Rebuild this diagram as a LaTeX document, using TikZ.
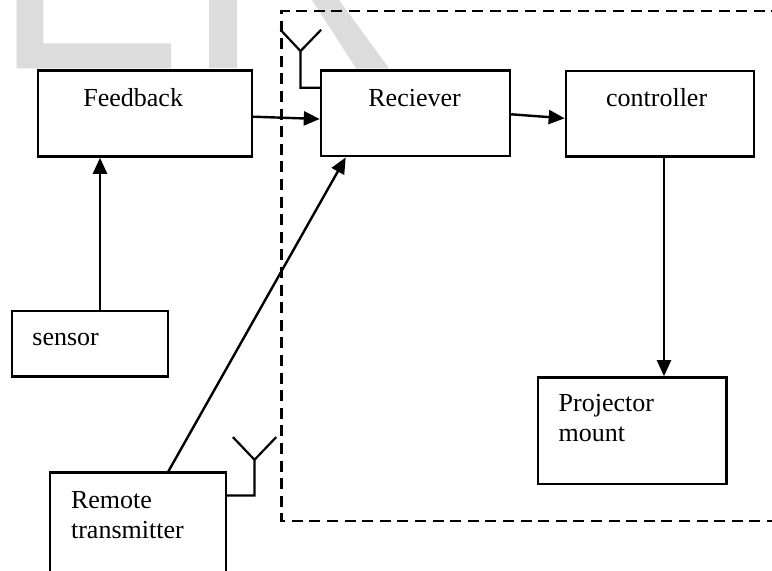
\documentclass[tikz,border=0pt]{standalone}
\usepackage{fontspec}
\setmainfont{Liberation Serif}
\usetikzlibrary{arrows.meta}
\definecolor{wm}{HTML}{DCDCDC}
\begin{document}
\begin{tikzpicture}[x=0.5pt,y=-0.5pt,
  box/.style={draw=black,line width=1.2pt,fill=white,rectangle,inner sep=0pt},
  lbl/.style={anchor=base west,inner sep=0pt,font=\fontsize{13pt}{15pt}\selectfont},
  conn/.style={line width=1.2pt,-{Triangle[length=8pt,width=7pt]}},
  wire/.style={line width=1.1pt},
  frame/.style={line width=1.3pt,dash pattern=on 5.5pt off 3.3pt}]
\clip (0,0) rectangle (772,571);
\fill[white] (0,0) rectangle (772,571);
% watermark
\fill[wm] (16.7,0) -- (43.3,0) -- (43.3,43.3) -- (171,43.3) -- (171,68.3) -- (16.7,68.3) -- cycle;
\fill[wm] (209,0) rectangle (236.7,68.3);
\fill[wm] (312,0) -- (339,0) -- (389,68.3) -- (356,68.3) -- cycle;
% dashed frame
\draw[frame] (800,11) -- (281.7,11) -- (281.7,521) -- (800,521);
% boxes
\node[box,minimum width=107pt,minimum height=43pt] (fb) at (144.7,113.6) {};
\node[box,minimum width=94.5pt,minimum height=42.8pt] (rx) at (415.5,113.5) {};
\node[box,minimum width=93.9pt,minimum height=42.8pt] (ct) at (659.8,113.7) {};
\node[box,minimum width=78pt,minimum height=32.8pt] (sn) at (89.7,343.8) {};
\node[box,minimum width=94.4pt,minimum height=53.3pt] (pm) at (632.1,430.7) {};
\node[box,minimum width=88pt,minimum height=60pt] (tx) at (138,532.7) {};
% labels
\node[lbl] (fbt) at (83,106.7) {Feedback};
\node[lbl] (rxt) at (368,106.7) {Reciever};
\node[lbl] (ctt) at (605.7,106.7) {controller};
\node[lbl] (snt) at (32,346) {sensor};
\node[lbl] (pmt1) at (558.3,411.7) {Projector};
\node[lbl] (pmt2) at (558.3,441.7) {mount};
\node[lbl] (txt1) at (70.7,508.3) {Remote};
\node[lbl] (txt2) at (70.7,539) {transmitter};
% connectors
\draw[conn] ([yshift=-1.55pt]fb.east) -- ([yshift=-2.75pt]rx.west);
\draw[conn] ([yshift=-0.4pt]rx.east) -- ([yshift=-2.3pt]ct.west);
\draw[conn] ([xshift=5.15pt]sn.north) -- ([xshift=5.15pt]sn.north |- fb.south);
\draw[conn] ([xshift=2.1pt]ct.south) -- ([xshift=2.1pt]ct.south |- pm.north);
\draw[conn] ([xshift=15.15pt]tx.north) -- ([xshift=-34.9pt]rx.south);
% antennas
\draw[wire] ([yshift=-9.15pt]rx.north west) -- ++(-19.3,0) -- ++(0,-36.7) coordinate (ra) -- ++(-20,-21.3);
\draw[wire] (ra) -- ++(20.6,-21.3);
\draw[wire] ([yshift=-12pt]tx.north east) -- ++(27.3,0) -- ++(0,-35.7) coordinate (ta) -- ++(-21.6,-22.7);
\draw[wire] (ta) -- ++(21.7,-22.7);
\end{tikzpicture}
\end{document}
